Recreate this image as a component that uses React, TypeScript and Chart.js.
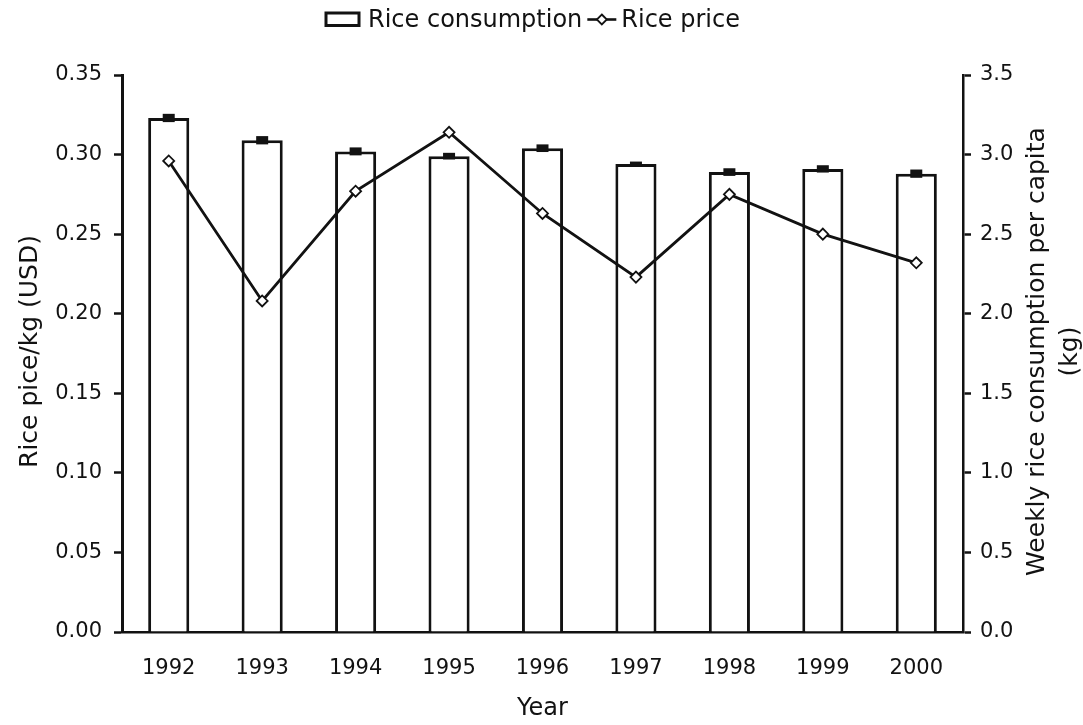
import React, { useEffect, useRef } from 'react';
import { Chart, registerables } from 'chart.js';

Chart.register(...registerables);

// ---- data ----
const years = ['1992', '1993', '1994', '1995', '1996', '1997', '1998', '1999', '2000'];
// weekly rice consumption per capita (kg), right axis
const consumption = [3.23, 3.09, 3.02, 2.99, 3.04, 2.94, 2.89, 2.91, 2.88];
// half-height of the small error bar drawn on top of each bar (kg)
const consumptionErr = [0.026, 0.026, 0.025, 0.021, 0.024, 0.016, 0.024, 0.023, 0.026];
// rice price per kg (USD), left axis
const price = [0.296, 0.208, 0.277, 0.314, 0.263, 0.223, 0.275, 0.25, 0.232];

const priceAxis = { min: 0, max: 0.35, step: 0.05 };
const kgAxis = { min: 0, max: 3.5, step: 0.5 };

const legendLabels = ['Rice consumption', 'Rice price'];
const xTitle = 'Year';
const leftTitle = 'Rice pice/kg (USD)';
const rightTitle = ['Weekly rice consumption per capita', '(kg)'];

const FONT = '"DejaVu Sans", "Liberation Sans", Arial, sans-serif';
const INK = '#121212';

export default function App() {
  const canvasRef = useRef<HTMLCanvasElement>(null);

  useEffect(() => {
    const canvas = canvasRef.current;
    if (!canvas) return;

    const overlay = {
      id: 'overlay',
      afterDatasetDraw(chart: any, args: any) {
        if (args.index !== 0) return;
        const meta = chart.getDatasetMeta(0);
        const ys = chart.scales.y1;
        const ctx = chart.ctx;
        ctx.save();
        ctx.fillStyle = INK;
        meta.data.forEach((el: any, i: number) => {
          const t = ys.getPixelForValue(consumption[i] + consumptionErr[i]);
          const b = ys.getPixelForValue(consumption[i] - consumptionErr[i]);
          ctx.fillRect(el.x - 6, t, 12, Math.max(b - t, 3));
        });
        ctx.restore();
      },
      afterDraw(chart: any) {
        const ctx = chart.ctx;
        const ca = chart.chartArea;
        ctx.save();
        ctx.fillStyle = INK;
        ctx.strokeStyle = INK;
        ctx.textBaseline = 'middle';

        // ---- legend ----
        ctx.font = `24px ${FONT}`;
        const ly = 19.5;
        let x = 326;
        ctx.lineWidth = 3;
        ctx.strokeRect(x, 13, 33, 12.5);
        x += 42;
        ctx.textAlign = 'left';
        ctx.fillText(legendLabels[0], x, ly + 1);
        x += ctx.measureText(legendLabels[0]).width + 5;
        ctx.lineWidth = 2.6;
        ctx.beginPath();
        ctx.moveTo(x, ly);
        ctx.lineTo(x + 29, ly);
        ctx.stroke();
        const cx = x + 14.5;
        ctx.fillStyle = '#ffffff';
        ctx.lineWidth = 1.8;
        ctx.beginPath();
        ctx.moveTo(cx, ly - 5);
        ctx.lineTo(cx + 5, ly);
        ctx.lineTo(cx, ly + 5);
        ctx.lineTo(cx - 5, ly);
        ctx.closePath();
        ctx.fill();
        ctx.stroke();
        ctx.fillStyle = INK;
        x += 34;
        ctx.fillText(legendLabels[1], x, ly + 1);

        // ---- axis titles ----
        ctx.textAlign = 'center';
        ctx.font = `24px ${FONT}`;
        ctx.fillText(xTitle, (ca.left + ca.right) / 2, 709);

        const midY = (ca.top + ca.bottom) / 2;
        ctx.font = `25px ${FONT}`;
        ctx.save();
        ctx.translate(30, midY - 2);
        ctx.rotate(-Math.PI / 2);
        ctx.fillText(leftTitle, 0, 0);
        ctx.restore();

        ctx.save();
        ctx.translate(1037, midY - 2);
        ctx.rotate(-Math.PI / 2);
        ctx.fillText(rightTitle[0], 0, 0);
        ctx.restore();

        ctx.save();
        ctx.translate(1070, midY - 2);
        ctx.rotate(-Math.PI / 2);
        ctx.fillText(rightTitle[1], 0, 0);
        ctx.restore();

        ctx.restore();
      },
    };

    const tickFont = { family: FONT, size: 21 };

    const chart = new Chart(canvas, {
      type: 'bar',
      data: {
        labels: years,
        datasets: [
          {
            type: 'bar',
            label: legendLabels[0],
            data: consumption,
            yAxisID: 'y1',
            backgroundColor: '#ffffff',
            borderColor: INK,
            borderWidth: 3,
            barPercentage: 0.44,
            categoryPercentage: 1,
            order: 1,
          },
          {
            type: 'line',
            label: legendLabels[1],
            data: price,
            yAxisID: 'y',
            borderColor: INK,
            borderWidth: 2.8,
            backgroundColor: '#ffffff',
            pointStyle: 'rectRot',
            pointRadius: 5.5,
            pointBorderWidth: 1.8,
            pointBackgroundColor: '#ffffff',
            pointBorderColor: INK,
            tension: 0,
            order: 0,
          } as any,
        ],
      },
      options: {
        animation: false,
        responsive: true,
        maintainAspectRatio: false,
        layout: { padding: { top: 75, left: 0, right: 0, bottom: 0 } },
        plugins: {
          legend: { display: false },
          tooltip: { enabled: false },
        },
        scales: {
          x: {
            type: 'category',
            offset: true,
            grid: { display: false, drawTicks: false },
            border: { display: true, color: INK, width: 2.5 },
            ticks: { font: tickFont, color: INK, padding: 24, maxRotation: 0 },
            afterFit: (s: any) => {
              s.height = 93;
            },
          },
          y: {
            type: 'linear',
            position: 'left',
            min: priceAxis.min,
            max: priceAxis.max,
            grid: {
              drawOnChartArea: false,
              drawTicks: true,
              tickLength: 8,
              tickWidth: 2.5,
              tickColor: INK,
            },
            border: { display: true, color: INK, width: 3 },
            ticks: {
              stepSize: priceAxis.step,
              font: tickFont,
              color: INK,
              padding: 12,
              callback: (v: any) => Number(v).toFixed(2),
            },
            afterFit: (s: any) => {
              s.width = 122;
            },
          },
          y1: {
            type: 'linear',
            position: 'right',
            min: kgAxis.min,
            max: kgAxis.max,
            grid: {
              drawOnChartArea: false,
              drawTicks: true,
              tickLength: 8,
              tickWidth: 2.5,
              tickColor: INK,
            },
            border: { display: true, color: INK, width: 2.5 },
            ticks: {
              stepSize: kgAxis.step,
              font: tickFont,
              color: INK,
              padding: 9,
              callback: (v: any) => Number(v).toFixed(1),
            },
            afterFit: (s: any) => {
              s.width = 120;
            },
          },
        },
      } as any,
      plugins: [overlay],
    });

    return () => chart.destroy();
  }, []);

  return (
    <div style={{ position: 'absolute', left: 0, top: 0, width: 1083, height: 725, background: '#ffffff' }}>
      <canvas ref={canvasRef} />
    </div>
  );
}
